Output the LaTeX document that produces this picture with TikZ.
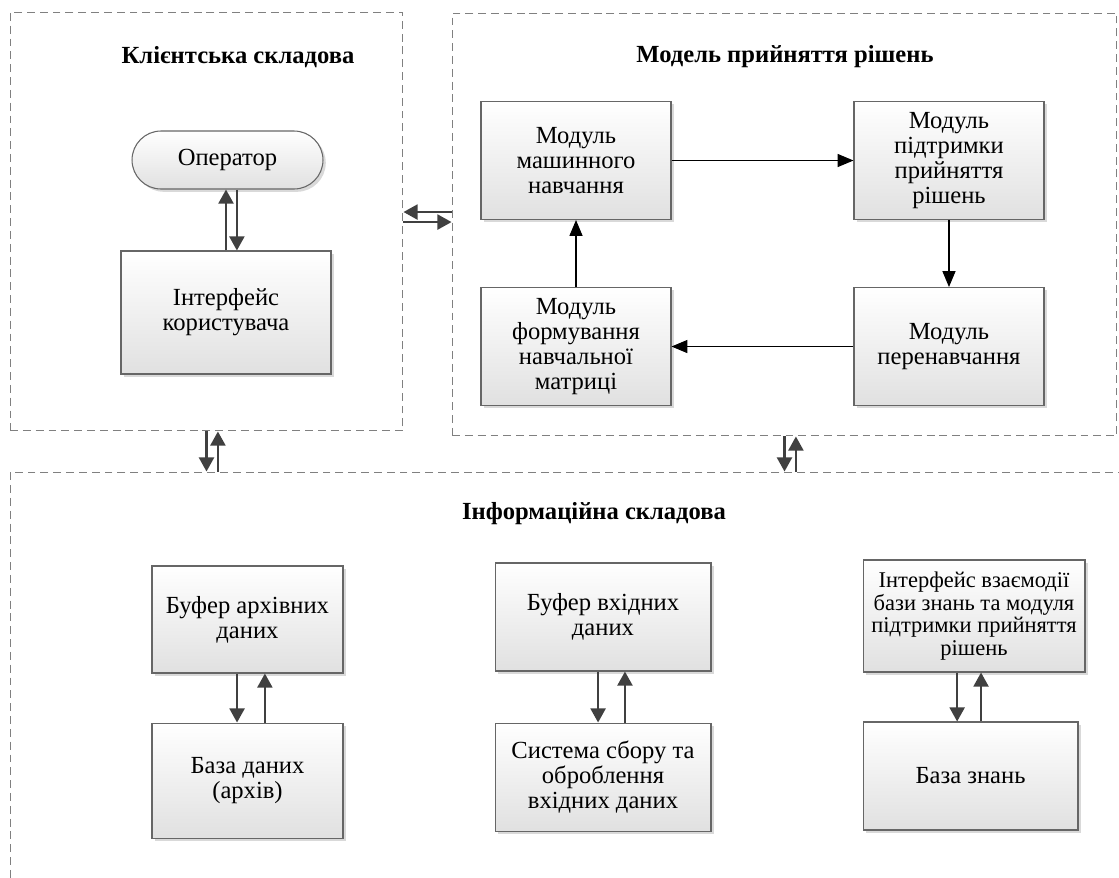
\documentclass[tikz,border=0pt]{standalone}
\usepackage{fontspec}
\setmainfont{Liberation Serif}
\usetikzlibrary{positioning, arrows.meta, shadows}

\newcommand\diagfont{\fontsize{14pt}{14.2pt}\selectfont}
\newcommand\smalldiagfont{\fontsize{12.8pt}{12.8pt}\selectfont}

\tikzset{
  group/.style={draw=black!50, dash pattern=on 4.5pt off 2.8pt, line width=0.6pt},
  title/.style={font=\diagfont\bfseries},
  block/.style={draw=black!60, rectangle, align=center, line width=0.6pt, inner sep=2pt,
    top color=white, bottom color=black!12,
    drop shadow={shadow xshift=1.6pt, shadow yshift=-1.6pt, fill=black!25, opacity=0.6}},
  modbox/.style={minimum width=3.8cm, minimum height=2.36cm},
  flow/.style={-{Triangle[length=9pt, width=7.4pt]}, line width=0.6pt, black},
  link/.style={-{Triangle[length=8pt, width=8.5pt]}, line width=1.3pt, black!75},
}

\begin{document}
\begin{tikzpicture}[x=0.02cm, y=-0.02cm, font=\diagfont]
            \useasboundingbox (0,0) rectangle (1119,877);

            % Client part
            \node[group, minimum width=7.86cm, minimum height=8.38cm] (client) at (206.5,221.5) {};
            \node[title] (clienttitle) at (238,57) {Клієнтська складова};
            \node[block, rounded corners=0.58cm, minimum width=3.82cm, minimum height=1.16cm] (operator) at (227.5,160) {Оператор};
            \node[block, minimum width=4.2cm, minimum height=2.46cm] (ui) at (226,312.5) {Інтерфейс\\користувача};

            % Decision model
            \node[group, minimum width=13.3cm, minimum height=8.46cm] (model) at (784.5,224.5) {};
            \node[title] (modeltitle) at (785,57) {Модель прийняття рішень};
            \node[block, modbox] (mml) at (576,160.5) {Модуль\\машинного\\навчання};
            \node[block, modbox, right=3.64cm of mml] (mps) {Модуль\\підтримки\\прийняття\\рішень};
            \node[block, modbox, below=1.34cm of mml] (mfm) {Модуль\\формування\\навчальної\\матриці};
            \node[block, modbox, below=1.34cm of mps] (mpn) {Модуль\\перенавчання};

            % Information part
            \node[group, minimum width=22.4cm, minimum height=8.56cm] (info) at (570,686) {};
            \node[title] (infotitle) at (594,514) {Інформаційна складова};
            \node[block, minimum width=3.82cm, minimum height=2.14cm] (bar) at (247.5,619.5) {Буфер архівних\\даних};
            \node[block, minimum width=3.82cm, minimum height=2.3cm, below=0.98cm of bar] (db) {База даних\\(архів)};
            \node[block, minimum width=4.32cm, minimum height=2.16cm] (bin) at (603,617) {Буфер вхідних\\даних};
            \node[block, minimum width=4.32cm, minimum height=2.16cm, below=1.02cm of bin] (sys) {Система сбору та\\оброблення\\вхідних даних};
            \node[block, font=\smalldiagfont, minimum width=4.44cm, minimum height=2.24cm] (kbi) at (974,616) {Інтерфейс взаємодії\\бази знань та модуля\\підтримки прийняття\\рішень};
            \node[block, minimum width=4.3cm, minimum height=2.16cm] (kb) at (970.5,776) {База знань};

            % Arrows client part
            \draw[link] (ui.north) -- (ui.north |- operator.south);
            \draw[link] ([xshift=6.2pt]ui.north |- operator.south) -- ([xshift=6.2pt]ui.north);

            % Arrows between parts
            \draw[link] ([yshift=7.1pt]model.west) -- ([yshift=7.1pt]model.west -| client.east);
            \draw[link] ([yshift=1.4pt]model.west -| client.east) -- ([yshift=1.4pt]model.west);
            \draw[link] (client.south) -- (client.south |- info.north);
            \draw[link] ([xshift=6.5pt]client.south |- info.north) -- ([xshift=6.5pt]client.south);
            \draw[link] (model.south) -- (model.south |- info.north);
            \draw[link] ([xshift=6.5pt]model.south |- info.north) -- ([xshift=6.5pt]model.south);

            % Arrows decision model
            \draw[flow] (mml) -- (mps);
            \draw[flow] (mps.south) -- (mps.south |- mpn.north);
            \draw[flow] (mpn) -- (mfm);
            \draw[flow] (mfm) -- (mml);

            % Arrows information part
            \draw[link] ([xshift=-5.95pt]bar.south) -- ([xshift=-5.95pt]bar.south |- db.north);
            \draw[link] ([xshift=9.9pt]bar.south |- db.north) -- ([xshift=9.9pt]bar.south);
            \draw[link] ([xshift=-2.8pt]bin.south) -- ([xshift=-2.8pt]bin.south |- sys.north);
            \draw[link] ([xshift=12.5pt]bin.south |- sys.north) -- ([xshift=12.5pt]bin.south);
            \draw[link] ([xshift=-9.6pt]kbi.south) -- ([xshift=-9.6pt]kbi.south |- kb.north);
            \draw[link] ([xshift=4pt]kbi.south |- kb.north) -- ([xshift=4pt]kbi.south);
\end{tikzpicture}
\end{document}
